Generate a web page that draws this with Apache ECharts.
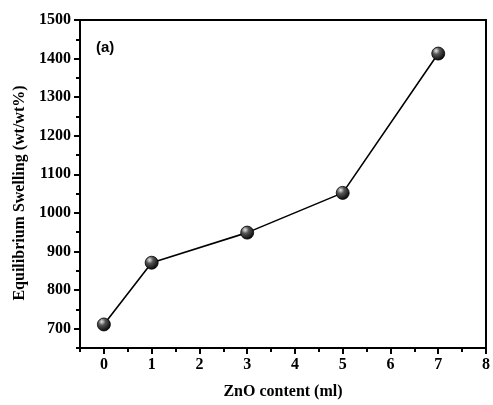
<!DOCTYPE html>
<html><head><meta charset="utf-8">
<script src="https://cdn.jsdelivr.net/npm/echarts@6/dist/echarts.min.js"></script>
<style>html,body{margin:0;padding:0;background:#fff}#c{width:493px;height:405px}</style>
</head><body><div id="c"></div>
<script>
const xValues = [0, 1, 3, 5, 7];
const swelling = [711, 871, 949, 1052, 1413];
const xMajorTicks = [0, 1, 2, 3, 4, 5, 6, 7, 8];
const xMinorTicks = [-0.5, 0.5, 1.5, 2.5, 3.5, 4.5, 5.5, 6.5, 7.5];
const yMajorTicks = [700, 800, 900, 1000, 1100, 1200, 1300, 1400, 1500];
const yMinorTicks = [650, 750, 850, 950, 1050, 1150, 1250, 1350, 1450];
const xName = 'ZnO content (ml)';
const yName = 'Equilibrium Swelling (wt/wt%)';
const panelLabel = '(a)';

const serif = '"Liberation Serif", "Times New Roman", serif';
const chart = echarts.init(document.getElementById('c'), null, {renderer: 'canvas'});
const lbl = {fontFamily: serif, fontWeight: 'bold', fontSize: 16, color: '#000'};
const axisLine = {show: true, onZero: false, lineStyle: {color: '#000', width: 2}};

chart.setOption({
  animation: false,
  backgroundColor: '#fff',
  grid: {left: 80, right: 3, top: 20, bottom: 54, show: true, borderColor: '#000', borderWidth: 2, backgroundColor: 'transparent'},
  graphic: [{type: 'text', left: 96, top: 40, style: {text: panelLabel, font: 'bold 15px "Liberation Sans", Arial, sans-serif', fill: '#000'}}],
  xAxis: [{
    type: 'value', min: -0.5, max: 8, interval: 0.5, position: 'bottom',
    axisLine: axisLine,
    axisTick: {show: true, inside: false, length: 6, customValues: xMajorTicks, lineStyle: {color: '#000', width: 2}},
    axisLabel: Object.assign({customValues: xMajorTicks, margin: 9, formatter: v => String(v)}, lbl),
    splitLine: {show: false},
    name: xName, nameLocation: 'middle', nameGap: 36,
    nameTextStyle: {fontFamily: serif, fontWeight: 'bold', fontSize: 16, color: '#000'}
  }, {
    type: 'value', min: -0.5, max: 8, interval: 0.5, position: 'bottom', offset: 0,
    axisLine: {show: false, onZero: false},
    axisTick: {show: true, inside: false, length: 4, customValues: xMinorTicks, lineStyle: {color: '#000', width: 2}},
    axisLabel: {show: false}, splitLine: {show: false}
  }],
  yAxis: [{
    type: 'value', min: 650, max: 1500, interval: 50, position: 'left',
    axisLine: axisLine,
    axisTick: {show: true, inside: false, length: 6, customValues: yMajorTicks, lineStyle: {color: '#000', width: 2}},
    axisLabel: Object.assign({customValues: yMajorTicks, margin: 9, formatter: v => String(v)}, lbl),
    splitLine: {show: false},
    name: yName, nameLocation: 'middle', nameGap: 49, nameRotate: 90,
    nameTextStyle: {fontFamily: serif, fontWeight: 'bold', fontSize: 16, color: '#000', padding: [0, 18, 0, 0]}
  }, {
    type: 'value', min: 650, max: 1500, interval: 50, position: 'left', offset: 0,
    axisLine: {show: false, onZero: false},
    axisTick: {show: true, inside: false, length: 4, customValues: yMinorTicks, lineStyle: {color: '#000', width: 2}},
    axisLabel: {show: false}, splitLine: {show: false}
  }],
  series: [{
    type: 'line',
    data: xValues.map((x, i) => [x, swelling[i]]),
    symbol: 'circle', symbolSize: 13,
    lineStyle: {color: '#000', width: 1.6},
    itemStyle: {
      color: new echarts.graphic.RadialGradient(0.35, 0.3, 0.75, [
        {offset: 0, color: '#e8e8e8'},
        {offset: 0.35, color: '#555'},
        {offset: 1, color: '#000'}
      ]),
      borderColor: '#000', borderWidth: 0.8
    },
    z: 5
  }]
});
</script></body></html>
